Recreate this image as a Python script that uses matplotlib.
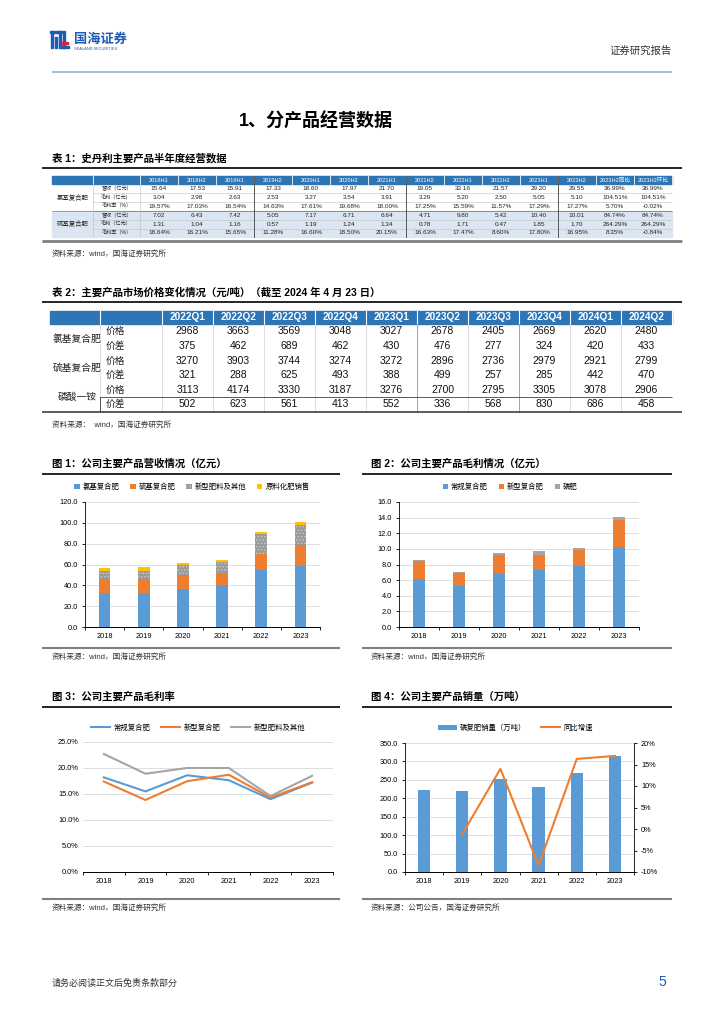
import numpy as np
import matplotlib
matplotlib.use('Agg')
import matplotlib.pyplot as plt
from matplotlib.patches import Rectangle

plt.rcParams['font.family'] = ['Liberation Sans', 'Noto Sans CJK SC']
plt.rcParams['axes.unicode_minus'] = False
plt.rcParams['hatch.linewidth'] = 0.7

BLUE = '#5B9BD5'
ORANGE = '#ED7D31'
GRAY = '#A5A5A5'
YELLOW = '#FFC000'
HEAD = '#2E75B6'

# ---------------- data ----------------
years = ['2018', '2019', '2020', '2021', '2022', '2023']

t1_cols = ['2018H1', '2018H2', '2019H1', '2019H2', '2020H1', '2020H2', '2021H1',
           '2021H2', '2022H1', '2022H2', '2023H1', '2023H2', '2023H2同比', '2023H2环比']
t1_groups = ['氯基复合肥', '硫基复合肥']
t1_items = ['营收（亿元）', '毛利（亿元）', '毛利率（%）']
t1_rows = [
    ['15.64', '17.53', '15.91', '17.33', '18.60', '17.97', '21.70', '19.05', '33.16', '21.57', '29.20', '29.55', '36.99%', '36.99%'],
    ['3.04', '2.98', '2.63', '2.53', '3.27', '3.54', '3.91', '3.29', '5.20', '2.50', '5.05', '5.10', '104.51%', '104.51%'],
    ['19.57%', '17.03%', '16.54%', '14.63%', '17.61%', '19.68%', '18.00%', '17.25%', '15.59%', '11.57%', '17.29%', '17.27%', '5.70%', '-0.02%'],
    ['7.02', '6.43', '7.42', '5.05', '7.17', '6.71', '6.64', '4.71', '9.80', '5.42', '10.40', '10.01', '84.74%', '84.74%'],
    ['1.31', '1.04', '1.16', '0.57', '1.19', '1.24', '1.34', '0.78', '1.71', '0.47', '1.85', '1.70', '264.29%', '264.29%'],
    ['18.64%', '16.21%', '15.65%', '11.28%', '16.60%', '18.50%', '20.15%', '16.63%', '17.47%', '8.60%', '17.80%', '16.95%', '8.35%', '-0.84%'],
]

t2_cols = ['2022Q1', '2022Q2', '2022Q3', '2022Q4', '2023Q1', '2023Q2', '2023Q3', '2023Q4', '2024Q1', '2024Q2']
t2_groups = ['氯基复合肥', '硫基复合肥', '磷酸一铵']
t2_items = ['价格', '价差']
t2_vals = [
    [2968, 3663, 3569, 3048, 3027, 2678, 2405, 2669, 2620, 2480],
    [375, 462, 689, 462, 430, 476, 277, 324, 420, 433],
    [3270, 3903, 3744, 3274, 3272, 2896, 2736, 2979, 2921, 2799],
    [321, 288, 625, 493, 388, 499, 257, 285, 442, 470],
    [3113, 4174, 3330, 3187, 3276, 2700, 2795, 3305, 3078, 2906],
    [502, 623, 561, 413, 552, 336, 568, 830, 686, 458],
]

# fig 1 revenue (亿元)
rev_labels = ['氯基复合肥', '硫基复合肥', '新型肥料及其他', '原料化肥销售']
rev_cl = [32.8, 32.8, 36.4, 40.2, 55.0, 58.9]
rev_s = [13.5, 13.2, 13.5, 11.6, 15.5, 20.2]
rev_new = [7.4, 8.0, 9.3, 10.3, 18.9, 19.0]
rev_raw = [3.2, 3.9, 2.2, 2.2, 1.6, 2.3]

# fig 2 gross profit (亿元)
gp_labels = ['常规复合肥', '新型复合肥', '磷肥']
gp_reg = [6.09, 5.19, 6.86, 7.29, 7.76, 10.25]
gp_new = [2.36, 1.71, 2.41, 1.98, 2.11, 3.48]
gp_p = [0.17, 0.18, 0.21, 0.51, 0.25, 0.30]

# fig 3 gross margin (%)
gm_labels = ['常规复合肥', '新型复合肥', '新型肥料及其他']
gm_reg = [18.2, 15.5, 18.6, 17.65, 14.0, 17.2]
gm_new = [17.4, 13.85, 17.46, 18.7, 14.3, 17.27]
gm_oth = [22.7, 18.9, 20.0, 20.0, 14.6, 18.5]

# fig 4 sales volume
vol_labels = ['磷复肥销量（万吨）', '同比增速']
vol = [222.7, 221.0, 251.8, 231.0, 268.0, 315.0]
vol_yoy = [np.nan, -1.2, 14.0, -8.5, 16.3, 17.0]

# ---------------- page ----------------
W, H = 724, 1024
fig = plt.figure(figsize=(W / 100, H / 100), dpi=100)
page = fig.add_axes([0, 0, 1, 1])
page.set_xlim(0, W)
page.set_ylim(H, 0)
page.axis('off')


def box(x0, y0, x1, y1):
    return fig.add_axes([x0 / W, 1 - y1 / H, (x1 - x0) / W, (y1 - y0) / H])


def hline(y, x0, x1, color='black', lw=1.0):
    page.plot([x0, x1], [y, y], color=color, lw=lw, solid_capstyle='butt')


# header
for xx, hh in [(51, 17), (55, 11), (59, 17)]:
    page.add_patch(Rectangle((xx, 48 - hh), 2.2, hh, color='#1F5BB4'))
page.add_patch(Rectangle((50, 31), 12, 2.2, color='#1F5BB4'))
page.add_patch(Rectangle((63, 31), 2.4, 17, color='#1F5BB4'))
page.add_patch(Rectangle((61, 42), 7, 2.2, color='#D9262C'))
page.add_patch(Rectangle((61, 46), 8, 2.2, color='#1F5BB4'))
page.text(74, 40, '国海证券', fontsize=9.5, color='#1F5BB4', fontweight='bold', va='center')
page.text(74, 49.5, 'SEALAND SECURITIES', fontsize=2.8, color='#1F5BB4', va='center')
page.text(672, 51, '证券研究报告', fontsize=7.5, ha='right', va='center', color='#333333')
hline(72, 52, 672, color='#9DC3E6', lw=1.5)

page.text(316, 122, '1、分产品经营数据', fontsize=13, fontweight='bold', ha='center', va='center')

# ---------------- table 1 ----------------
page.text(52, 158, '表 1：史丹利主要产品半年度经营数据', fontsize=7.5, fontweight='bold', va='center')
hline(168, 42, 682, lw=1.2)

t1_x0, t1_c1, t1_c2, t1_x1 = 52, 93, 140, 672
t1_cw = (t1_x1 - t1_c2) / len(t1_cols)
t1_top, t1_hh, t1_rh = 176, 8, 8.9
page.add_patch(Rectangle((t1_x0, t1_top), t1_x1 - t1_x0, t1_hh, color=HEAD))
body_top = t1_top + t1_hh
page.add_patch(Rectangle((t1_x0, body_top + 3 * t1_rh), t1_x1 - t1_x0, 3 * t1_rh, color='#DCE6F2'))
for i, c in enumerate(t1_cols):
    cx = t1_c2 + (i + 0.5) * t1_cw
    page.text(cx, t1_top + t1_hh / 2, c, fontsize=4.1, color='white', ha='center', va='center')
for i in range(len(t1_cols) + 1):
    xx = t1_c2 + i * t1_cw
    page.plot([xx, xx], [t1_top, t1_top + t1_hh], color='white', lw=0.6)
page.plot([t1_c1, t1_c1], [t1_top, t1_top + t1_hh], color='white', lw=0.6)
for r, row in enumerate(t1_rows):
    cy = body_top + (r + 0.5) * t1_rh
    page.text((t1_c1 + t1_c2) / 2, cy, t1_items[r % 3], fontsize=3.7, ha='center', va='center', color='#222222')
    for i, v in enumerate(row):
        page.text(t1_c2 + (i + 0.5) * t1_cw, cy, v, fontsize=4.6, ha='center', va='center', color='#222222')
    if r > 0:
        hline(body_top + r * t1_rh, t1_c1, t1_x1, color='#BFBFBF' if r != 3 else '#7F7F7F', lw=0.4)
for g, name in enumerate(t1_groups):
    page.text((t1_x0 + t1_c1) / 2, body_top + (g * 3 + 1.5) * t1_rh, name, fontsize=4.6,
              ha='center', va='center', color='#222222')
hline(body_top + 3 * t1_rh, t1_x0, t1_x1, color='#7F7F7F', lw=0.5)
body_bot = body_top + 6 * t1_rh
for xx in [t1_c1, t1_c2]:
    page.plot([xx, xx], [body_top, body_bot], color='#BFBFBF', lw=0.4)
for k in [3, 7, 11]:
    xx = t1_c2 + k * t1_cw
    page.plot([xx, xx], [t1_top, body_bot], color='#404040', lw=0.6)
hline(body_bot + 4, 42, 682, color='#808080', lw=2)
page.text(52, 254, '资料来源：wind，国海证券研究所', fontsize=5.5, va='center', color='#333333')

# ---------------- table 2 ----------------
page.text(52, 293, '表 2：主要产品市场价格变化情况（元/吨）（截至 2024 年 4 月 23 日）',
          fontsize=7.5, fontweight='bold', va='center')
hline(302, 42, 682, lw=1.2)

t2_x0, t2_c1, t2_c2, t2_x1 = 50, 100, 162, 672
t2_cw = (t2_x1 - t2_c2) / len(t2_cols)
t2_top, t2_hh, t2_rh = 311, 13, 14.6
page.add_patch(Rectangle((t2_x0, t2_top), t2_x1 - t2_x0, t2_hh, color=HEAD))
for i, c in enumerate(t2_cols):
    page.text(t2_c2 + (i + 0.5) * t2_cw, t2_top + t2_hh / 2, c, fontsize=7.3, color='white',
              fontweight='bold', ha='center', va='center')
for i in range(len(t2_cols) + 1):
    xx = t2_c2 + i * t2_cw
    page.plot([xx, xx], [t2_top, t2_top + t2_hh], color='white', lw=0.8)
page.plot([t2_c1, t2_c1], [t2_top, t2_top + t2_hh], color='white', lw=0.8)
b2_top = t2_top + t2_hh
for r, row in enumerate(t2_vals):
    cy = b2_top + (r + 0.5) * t2_rh
    page.text(t2_c1 + 6, cy, t2_items[r % 2], fontsize=7, ha='left', va='center', color='#222222')
    for i, v in enumerate(row):
        page.text(t2_c2 + (i + 0.5) * t2_cw, cy, str(v), fontsize=7.5, ha='center', va='center', color='#111111')
for g, name in enumerate(t2_groups):
    page.text((t2_x0 + t2_c1) / 2 + 2, b2_top + (g * 2 + 1) * t2_rh, name, fontsize=7,
              ha='center', va='center', color='#222222')
b2_bot = b2_top + 6 * t2_rh
for k in range(1, len(t2_cols)):
    xx = t2_c2 + k * t2_cw
    page.plot([xx, xx], [b2_top, b2_bot], color='#D0D0D0' if k not in (5, 7) else '#808080', lw=0.5)
for xx in [t2_c1, t2_c2]:
    page.plot([xx, xx], [b2_top, b2_bot], color='#D0D0D0', lw=0.5)
page.plot([t2_c1, t2_c1], [b2_top + 5 * t2_rh, b2_bot], color='#404040', lw=0.6)
hline(b2_top + 5 * t2_rh, t2_c1, t2_x1, color='#404040', lw=0.6)
hline(b2_bot, 42, 682, color='#404040', lw=1.2)
page.text(52, 425, '资料来源：  wind，国海证券研究所', fontsize=5.5, va='center', color='#333333')

# ---------------- chart captions ----------------
page.text(52, 464, '图 1：公司主要产品营收情况（亿元）', fontsize=7.5, fontweight='bold', va='center')
page.text(371, 464, '图 2：公司主要产品毛利情况（亿元）', fontsize=7.5, fontweight='bold', va='center')
hline(474, 42, 340, lw=1.2)
hline(474, 362, 672, lw=1.2)
hline(648, 42, 340, color='#808080', lw=1.5)
hline(648, 362, 672, color='#808080', lw=1.5)
page.text(52, 657, '资料来源：wind，国海证券研究所', fontsize=5.5, va='center', color='#333333')
page.text(371, 657, '资料来源：wind，国海证券研究所', fontsize=5.5, va='center', color='#333333')

page.text(52, 697, '图 3：公司主要产品毛利率', fontsize=7.5, fontweight='bold', va='center')
page.text(371, 697, '图 4：公司主要产品销量（万吨）', fontsize=7.5, fontweight='bold', va='center')
hline(707, 42, 340, lw=1.2)
hline(707, 362, 672, lw=1.2)
hline(899, 42, 340, color='#808080', lw=1.5)
hline(899, 362, 672, color='#808080', lw=1.5)
page.text(52, 908, '资料来源：wind，国海证券研究所', fontsize=5.5, va='center', color='#333333')
page.text(371, 908, '资料来源：公司公告，国海证券研究所', fontsize=5.5, va='center', color='#333333')

page.text(52, 983, '请务必阅读正文后免责条款部分', fontsize=6.5, va='center', color='#333333')
page.text(666, 982, '5', fontsize=10, va='center', ha='right', color='#1F5BB4')

TICK = 5.3
x = np.arange(len(years))


def style(ax, left_spine=True):
    ax.set_xlim(-0.5, len(years) - 0.5)
    ax.set_xticks(x)
    ax.set_xticklabels(years)
    ax.set_xticks(np.arange(-0.5, len(years)), minor=True)
    ax.tick_params(axis='x', which='major', length=0, labelsize=TICK, pad=4)
    ax.tick_params(axis='x', which='minor', length=2.5, width=0.6, direction='out')
    ax.tick_params(axis='y', labelsize=TICK, length=2 if left_spine else 0, width=0.6, pad=3)
    ax.grid(axis='y', color='#D9D9D9', lw=0.6)
    ax.set_axisbelow(True)
    for s in ['top', 'right']:
        ax.spines[s].set_visible(False)
    ax.spines['left'].set_visible(left_spine)
    ax.spines['left'].set_linewidth(0.6)
    ax.spines['bottom'].set_linewidth(0.7)


def legend(ax, cx, cy, ncol, **kw):
    ax.legend(loc='center', bbox_to_anchor=(cx / W, 1 - cy / H), bbox_transform=fig.transFigure,
              ncol=ncol, frameon=False, fontsize=5.3, columnspacing=1.5, handletextpad=0.4, **kw)


# ---------------- figure 1 ----------------
ax1 = box(85, 502, 320, 627)
bw = 0.3
b = np.zeros(len(years))
ax1.bar(x, rev_cl, bw, color=BLUE, label=rev_labels[0])
b += rev_cl
ax1.bar(x, rev_s, bw, bottom=b, color=ORANGE, label=rev_labels[1])
b += rev_s
ax1.bar(x, rev_new, bw, bottom=b, facecolor='#999999', edgecolor='#C8C8C8', hatch='.....', lw=0,
        label=rev_labels[2])
b += rev_new
ax1.bar(x, rev_raw, bw, bottom=b, color=YELLOW, label=rev_labels[3])
ax1.set_ylim(0, 120)
ax1.set_yticks(np.arange(0, 121, 20))
ax1.set_yticklabels(['%.1f' % v for v in np.arange(0, 121, 20)])
style(ax1)
legend(ax1, 192, 487, 4, handlelength=0.7, handleheight=0.7)

# ---------------- figure 2 ----------------
ax2 = box(399, 502, 639, 627)
b = np.zeros(len(years))
ax2.bar(x, gp_reg, 0.31, color=BLUE, label=gp_labels[0])
b += gp_reg
ax2.bar(x, gp_new, 0.31, bottom=b, color=ORANGE, label=gp_labels[1])
b += gp_new
ax2.bar(x, gp_p, 0.31, bottom=b, color=GRAY, label=gp_labels[2])
ax2.set_ylim(0, 16)
ax2.set_yticks(np.arange(0, 17, 2))
ax2.set_yticklabels(['%.1f' % v for v in np.arange(0, 17, 2)])
style(ax2)
legend(ax2, 510, 487, 3, handlelength=0.7, handleheight=0.7)

# ---------------- figure 3 ----------------
ax3 = box(83, 742, 333, 872)
ax3.plot(x, gm_reg, color=BLUE, lw=1.5, label=gm_labels[0])
ax3.plot(x, gm_new, color=ORANGE, lw=1.5, label=gm_labels[1])
ax3.plot(x, gm_oth, color=GRAY, lw=1.5, label=gm_labels[2])
ax3.set_ylim(0, 25)
ax3.set_yticks(np.arange(0, 26, 5))
ax3.set_yticklabels(['%.1f%%' % v for v in np.arange(0, 26, 5)])
style(ax3, left_spine=False)
legend(ax3, 198, 728, 3, handlelength=2.6)

# ---------------- figure 4 ----------------
ax4 = box(405, 743, 634, 872)
ax4.bar(x, vol, 0.32, color=BLUE, label=vol_labels[0])
ax4.set_ylim(0, 350)
ax4.set_yticks(np.arange(0, 351, 50))
ax4.set_yticklabels(['%.1f' % v for v in np.arange(0, 351, 50)])
style(ax4)
ax4r = ax4.twinx()
ax4r.plot(x, vol_yoy, color=ORANGE, lw=1.5, label=vol_labels[1])
ax4r.set_ylim(-10, 20)
ax4r.set_yticks(np.arange(-10, 21, 5))
ax4r.set_yticklabels(['%d%%' % v for v in np.arange(-10, 21, 5)])
ax4r.tick_params(axis='y', labelsize=TICK, length=2, width=0.6, pad=3)
for s in ['top', 'left', 'bottom']:
    ax4r.spines[s].set_visible(False)
ax4r.spines['right'].set_linewidth(0.6)
h1, l1 = ax4.get_legend_handles_labels()
h2, l2 = ax4r.get_legend_handles_labels()
ax4r.legend(h1 + h2, l1 + l2, loc='center', bbox_to_anchor=(515 / W, 1 - 728 / H),
            bbox_transform=fig.transFigure, ncol=2, frameon=False, fontsize=5.3,
            columnspacing=2.0, handletextpad=0.4, handlelength=2.6)

fig.savefig('out.png', dpi=100)
